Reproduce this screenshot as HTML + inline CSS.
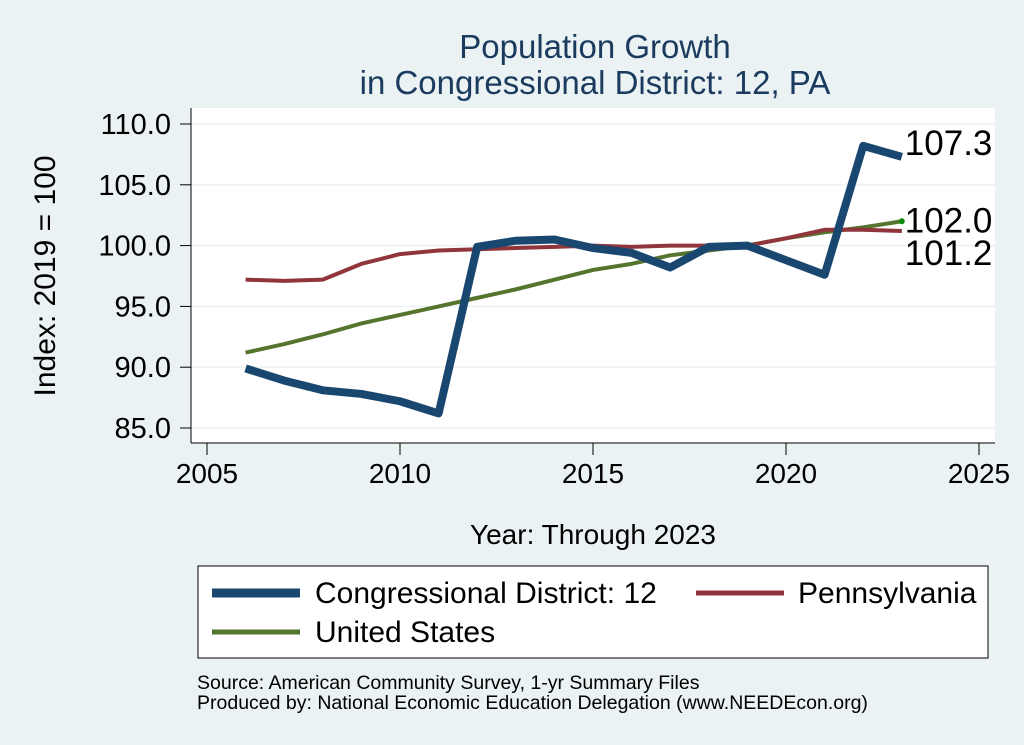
<!DOCTYPE html>
<html><head><meta charset="utf-8"><style>
html,body{margin:0;padding:0;background:#eaf2f3;}
svg{display:block;font-family:"Liberation Sans",sans-serif;}
</style></head><body>
<svg id="chart" width="1024" height="745">
<rect x="0" y="0" width="1024" height="745" fill="#eaf2f3"/>
<text x="595" y="58" font-size="33" fill="#1a3a5e" text-anchor="middle">Population Growth</text>
<text x="595" y="94" font-size="33" fill="#1a3a5e" text-anchor="middle">in Congressional District: 12, PA</text>
<rect x="191" y="108" width="804" height="335" fill="#fff"/>
<g id="yaxis"></g>
<g id="xaxis"></g>
<g id="series"></g>
<text x="55" y="276" font-size="30" text-anchor="middle" transform="rotate(-90 55 276)">Index: 2019 = 100</text>
<text x="593" y="544" font-size="28" text-anchor="middle">Year: Through 2023</text>
<g>
<rect x="198" y="566" width="790" height="92" fill="#fff" stroke="#000" stroke-width="1"/>
<g><line x1="212" y1="593" x2="300" y2="593" stroke="#1a476f" stroke-width="9"/><text x="315" y="603" font-size="30">Congressional District: 12</text></g>
<g><line x1="696" y1="593" x2="784" y2="593" stroke="#90353b" stroke-width="5"/><text x="798" y="603" font-size="30">Pennsylvania</text></g>
<g><line x1="212" y1="632" x2="300" y2="632" stroke="#55752f" stroke-width="5"/><text x="315" y="642" font-size="30">United States</text></g>
</g>
<text x="197" y="689" font-size="19.5">Source: American Community Survey, 1-yr Summary Files</text>
<text x="197" y="709" font-size="19.5">Produced by: National Economic Education Delegation (www.NEEDEcon.org)</text>
</svg>
<script>
const years=[2006,2007,2008,2009,2010,2011,2012,2013,2014,2015,2016,2017,2018,2019,2020,2021,2022,2023];
const cd12=[89.9,88.9,88.1,87.8,87.2,86.2,99.9,100.4,100.5,99.8,99.4,98.2,99.9,100.0,98.8,97.6,108.2,107.3];
const pa=[97.2,97.1,97.2,98.5,99.3,99.6,99.7,99.8,99.9,100.0,99.9,100.0,100.0,100.0,100.6,101.3,101.3,101.2];
const us=[91.2,91.9,92.7,93.6,94.3,95.0,95.7,96.4,97.2,98.0,98.5,99.2,99.6,100.0,100.6,101.1,101.5,102.0];
const yTicks=[85,90,95,100,105,110];
const xTicks=[2005,2010,2015,2020,2025];
const NS="http://www.w3.org/2000/svg";
const xs=v=>207+(v-2005)*(979-207)/20;
const ys=v=>428-(v-85)*(428-124)/25;
function mk(t,a,p){const e=document.createElementNS(NS,t);for(const k in a)e.setAttribute(k,a[k]);p.appendChild(e);return e;}
const ya=document.getElementById('yaxis'),xa=document.getElementById('xaxis'),sg=document.getElementById('series');
yTicks.forEach(v=>{
 const g=mk('g',{},ya);
 
 
 mk('line',{x1:191,x2:995,y1:ys(v),y2:ys(v),stroke:'#eaf2f3','stroke-width':1.5},g);
 mk('line',{x1:180,x2:191,y1:ys(v),y2:ys(v),stroke:'#000'},g);
 const t=mk('text',{x:171,y:ys(v)+10,'font-size':29,'text-anchor':'end'},g);t.textContent=v.toFixed(1);
});
mk('line',{x1:191,y1:108,x2:191,y2:443,stroke:'#000'},ya);
mk('line',{x1:191,y1:443,x2:995,y2:443,stroke:'#000'},xa);
xTicks.forEach(v=>{
 const g=mk('g',{},xa);
 
 
 mk('line',{x1:xs(v),x2:xs(v),y1:443,y2:455,stroke:'#000'},g);
 const t=mk('text',{x:xs(v),y:483,'font-size':28,'text-anchor':'middle'},g);t.textContent=v;
});
function line(arr,color,w,name){
 const p=mk('polyline',{points:arr.map((v,i)=>xs(years[i])+','+ys(v)).join(' '),fill:'none',stroke:color,'stroke-width':w,'stroke-linejoin':'round'},sg);
 
 
}
line(us,'#55752f',4,'line-united-states');
line(pa,'#90353b',4,'line-pennsylvania');
line(cd12,'#1a476f',8,'line-cd12');
const last=years.length-1;
mk('circle',{cx:xs(years[last]),cy:ys(us[last]),r:3,fill:'#0a8a0a'},sg);
const lbl=[[cd12[last],-14,'label-cd12'],[us[last],-1,'label-us'],[pa[last],22,'label-pa']];
lbl.forEach(([v,dy,n])=>{
 const t=mk('text',{x:xs(years[last])+3,y:ys(v)+dy+12,'font-size':35},sg);
 t.textContent=v.toFixed(1);
 
 
});
</script>
</body></html>
